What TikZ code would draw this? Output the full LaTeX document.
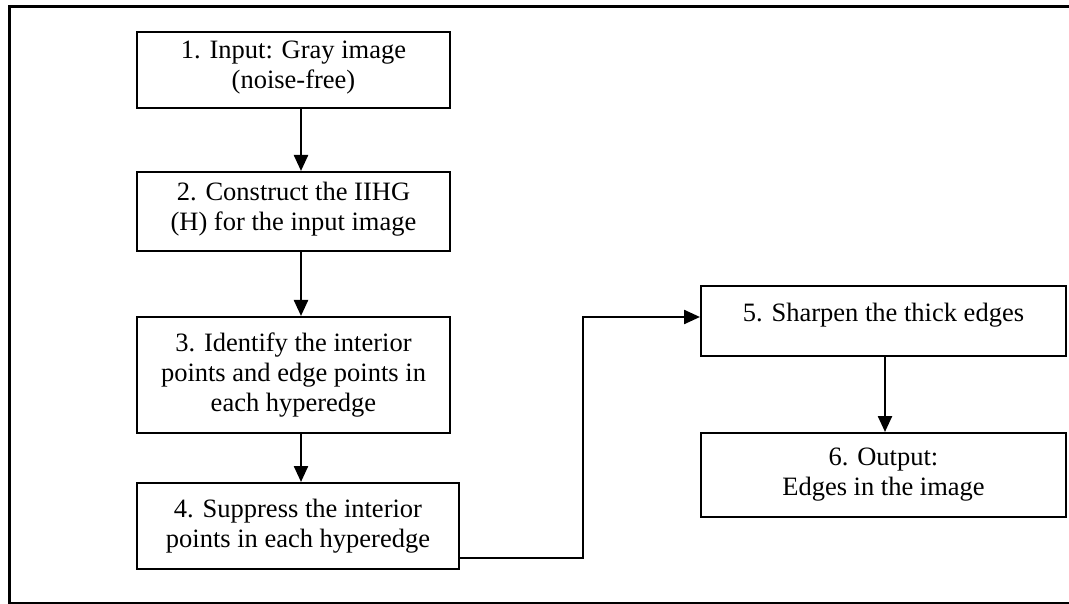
\documentclass[tikz,border=0pt]{standalone}
\usepackage{fontspec}
\setmainfont{Liberation Serif}
\usetikzlibrary{arrows.meta}
\begin{document}
\begin{tikzpicture}[x=1pt,y=-1pt,
  box/.style={draw, line width=2pt, align=center, inner sep=0pt,
    font=\fontsize{26.5}{30}\selectfont},
  conn/.style={line width=2.4pt, -{Triangle[length=16pt,width=14pt]}}]
\useasboundingbox (0,0) rectangle (1069,604);
\node[draw, line width=3pt, minimum width=1070pt, minimum height=596pt, inner sep=0pt] (frame) at (544,305) {};
\node[box, minimum width=313pt, minimum height=76pt] (b1) at (293.5,70) {\mbox{}\\[-18pt]1. Input: Gray image\\(noise-free)};
\node[box, minimum width=313pt, minimum height=79pt] (b2) at (293.5,211.5) {\mbox{}\\[-16pt]2. Construct the IIHG\\(H) for the input image};
\node[box, minimum width=313pt, minimum height=116pt] (b3) at (293.5,375) {3. Identify the interior\\points and edge points in\\each hyperedge};
\node[box, minimum width=322pt, minimum height=86pt] (b4) at (298,526) {4. Suppress the interior\\points in each hyperedge};
\node[box, minimum width=365pt, minimum height=70pt] (b5) at (883.5,321) {5. Sharpen the thick edges\\[-12pt]\mbox{}};
\node[box, minimum width=365pt, minimum height=84pt] (b6) at (883.5,475) {6. Output:\\Edges in the image};
\draw[conn] ([xshift=7.5pt]b1.south) -- ([xshift=7.5pt]b2.north);
\draw[conn] ([xshift=7.5pt]b2.south) -- ([xshift=7.5pt]b3.north);
\draw[conn] ([xshift=7.5pt]b3.south) -- ([xshift=7.5pt]b3.south |- b4.north);
\draw[conn] ([yshift=-32pt]b4.east) -- ++(123,0) |- ([yshift=4pt]b5.west);
\draw[conn] ([xshift=1.5pt]b5.south) -- ([xshift=1.5pt]b6.north);
\end{tikzpicture}
\end{document}
